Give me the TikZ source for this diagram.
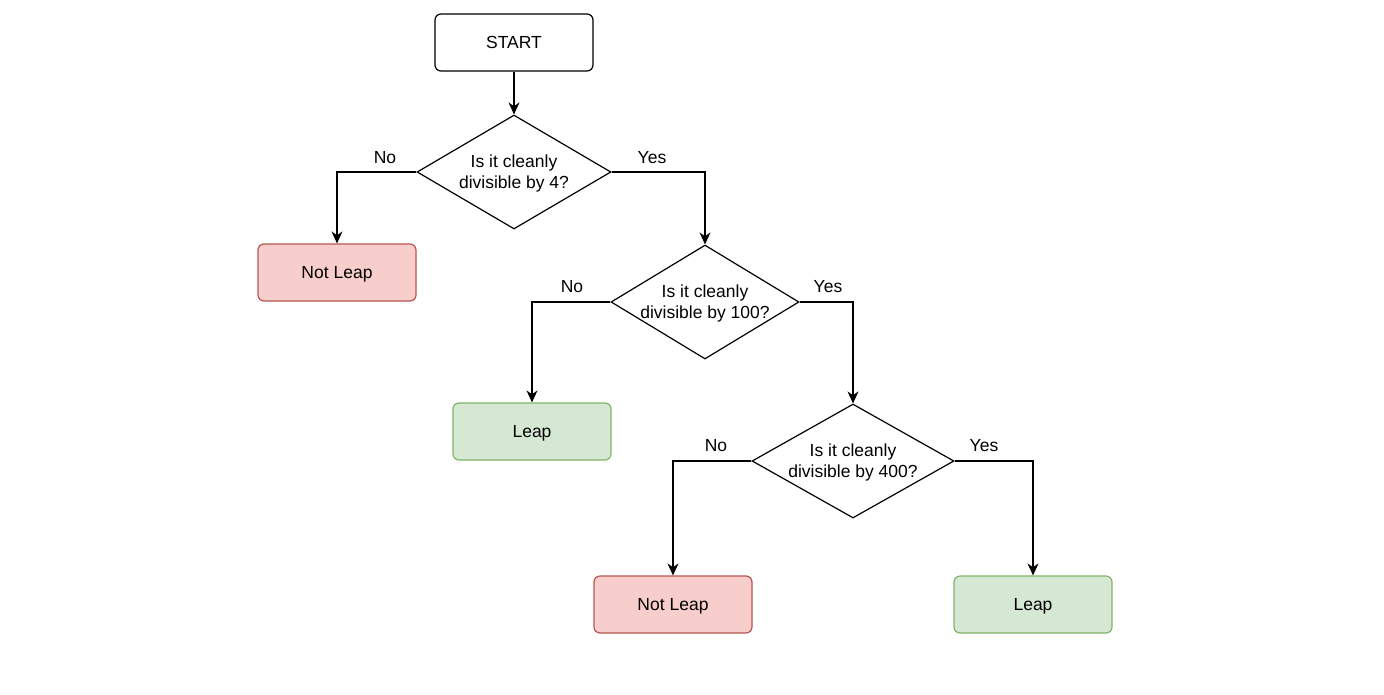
\documentclass[tikz,border=0pt]{standalone}
\usepackage{fontspec}
\setmainfont{Liberation Sans}
\usetikzlibrary{shapes.geometric, arrows.meta}

\definecolor{nofill}{HTML}{F8CECC}
\definecolor{nodraw}{HTML}{B85450}
\definecolor{yesfill}{HTML}{D5E8D4}
\definecolor{yesdraw}{HTML}{82B366}

\tikzset{
	box/.style = {draw, rounded corners=6pt, line width=1.2pt, minimum width=158pt, minimum height=57pt, inner sep=0pt, text depth=1pt},
	notleap/.style = {box, draw=nodraw, fill=nofill},
	leap/.style = {box, draw=yesdraw, fill=yesfill},
	question/.style = {draw, diamond, line width=1.2pt, minimum width=194pt, minimum height=114pt, inner sep=0pt},
	link/.style = {line width=1.2pt, -{Stealth[length=12pt, width=11pt]}},
	answer/.style = {inner sep=0pt}
}

\begin{document}
\begin{tikzpicture}[x=1pt, y=-1pt, font=\fontsize{17.5}{21}\selectfont]
			\useasboundingbox (0,0) rectangle (1384,694);

			\node [box] (start) at (514,42.5) {START};
			\node [question, label={[align=center, yshift=-1pt]center:Is it cleanly\\divisible by 4?}] (q4) at (514,172) {};
			\node [notleap] (not1) at (337,272.5) {Not Leap};
			\node [question, minimum width=188pt, label={[align=center, yshift=-1pt]center:Is it cleanly\\divisible by 100?}] (q100) at (705,302) {};
			\node [leap] (leap1) at (532,431.5) {Leap};
			\node [question, minimum width=202pt, label={[align=center, yshift=-1pt]center:Is it cleanly\\divisible by 400?}] (q400) at (853,461) {};
			\node [notleap] (not2) at (673,604.5) {Not Leap};
			\node [leap] (leap2) at (1033,604.5) {Leap};

			\draw [link] (start) to (q4);
			\draw [link] (q4.west) -| (not1.north);
			\draw [link] (q4.east) -| (q100.north);
			\draw [link] (q100.west) -| (leap1.north);
			\draw [link] (q100.east) -| (q400.north);
			\draw [link] (q400.west) -| (not2.north);
			\draw [link] (q400.east) -| (leap2.north);

			\node [answer] (no4) at (385,158) {No};
			\node [answer] (yes4) at (652,158) {Yes};
			\node [answer] (no100) at (572,287) {No};
			\node [answer] (yes100) at (828,287) {Yes};
			\node [answer] (no400) at (716,446) {No};
			\node [answer] (yes400) at (984,446) {Yes};
		\end{tikzpicture}
\end{document}
